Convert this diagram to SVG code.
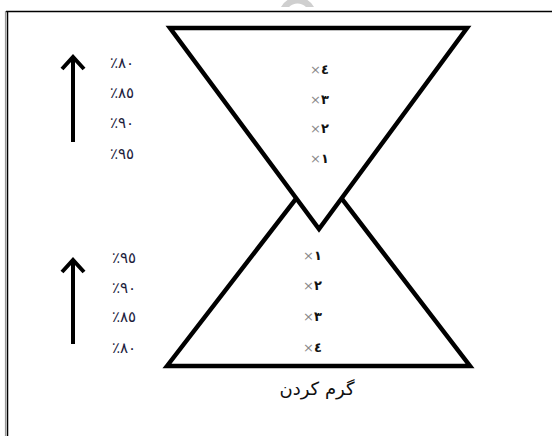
<svg xmlns="http://www.w3.org/2000/svg" width="552" height="436" viewBox="0 0 552 436">
<style>
.tri{fill:#fff;stroke:#000;stroke-width:4.5;stroke-linejoin:miter}
.pct{font-family:"DejaVu Sans","Noto Sans",sans-serif;font-size:15px;fill:#1c1c3c;direction:ltr;unicode-bidi:bidi-override}
.mul{font-family:"DejaVu Sans","Noto Sans",sans-serif;font-size:13px;direction:ltr;unicode-bidi:bidi-override}
.x{fill:#8a8a8a}
.d{fill:#111;font-weight:bold}
.lbl{font-family:"DejaVu Sans","Noto Sans",sans-serif;font-size:18px;fill:#111;text-anchor:middle;letter-spacing:1px}
.arr{stroke:#000;stroke-width:4;fill:none}
</style>
<rect width="552" height="436" fill="#fff"/>
<path d="M281,7 A19,19 0 0 1 314,7 L306,7 A12,12 0 0 0 289,7 Z" fill="#cfcfcf"/>
<g id="frame">
<line x1="6" y1="11.5" x2="552" y2="11.5" stroke="#000" stroke-width="1.5"/>
<line x1="7.5" y1="11" x2="7.5" y2="436" stroke="#000" stroke-width="1.5"/>
<line x1="5.5" y1="11" x2="5.5" y2="436" stroke="#999" stroke-width="1.2"/>
</g>
<g id="bottom-triangle"><polygon class="tri" points="167,366 319,169 470,366"/></g>
<g id="top-triangle"><polygon class="tri" points="170,28 467,28 319,229"/></g>
<g id="connectors">
<g id="arrow-top">
<line class="arr" x1="73" y1="142" x2="73" y2="58"/>
<polyline class="arr" points="62,69 73,57 84,69"/>
</g>
<g id="arrow-bottom">
<line class="arr" x1="73" y1="344" x2="73" y2="261"/>
<polyline class="arr" points="62,272 73,260 84,272"/>
</g>
</g>
<g id="pct-top">
<text class="pct" x="110" y="68">٪٨٠</text>
<text class="pct" x="110" y="98">٪٨٥</text>
<text class="pct" x="110" y="128">٪٩٠</text>
<text class="pct" x="110" y="159">٪٩٥</text>
</g>
<g id="pct-bottom">
<text class="pct" x="112" y="263">٪٩٥</text>
<text class="pct" x="112" y="293">٪٩٠</text>
<text class="pct" x="112" y="322">٪٨٥</text>
<text class="pct" x="112" y="353">٪٨٠</text>
</g>
<g id="mul-top">
<text class="mul" x="310" y="74"><tspan class="x">×</tspan><tspan class="d">٤</tspan></text>
<text class="mul" x="310" y="104"><tspan class="x">×</tspan><tspan class="d">٣</tspan></text>
<text class="mul" x="310" y="133"><tspan class="x">×</tspan><tspan class="d">٢</tspan></text>
<text class="mul" x="310" y="163"><tspan class="x">×</tspan><tspan class="d">١</tspan></text>
</g>
<g id="mul-bottom">
<text class="mul" x="303" y="260"><tspan class="x">×</tspan><tspan class="d">١</tspan></text>
<text class="mul" x="303" y="290"><tspan class="x">×</tspan><tspan class="d">٢</tspan></text>
<text class="mul" x="303" y="321"><tspan class="x">×</tspan><tspan class="d">٣</tspan></text>
<text class="mul" x="303" y="352"><tspan class="x">×</tspan><tspan class="d">٤</tspan></text>
</g>
<g id="label"><text class="lbl" x="317" y="395">گرم کردن</text></g>
</svg>
